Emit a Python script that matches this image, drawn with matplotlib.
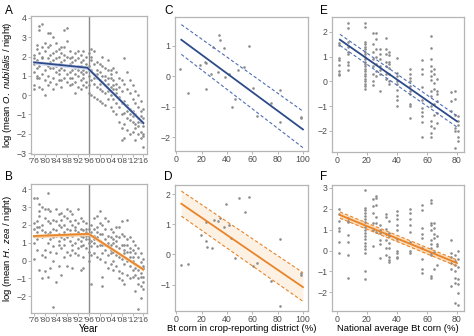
import matplotlib
matplotlib.use("Agg")
import matplotlib.pyplot as plt
import numpy as np

plt.rcParams['font.family'] = ['Liberation Sans', 'DejaVu Sans']
plt.rcParams['mathtext.fontset'] = 'custom'
plt.rcParams['mathtext.rm'] = 'Liberation Sans'
plt.rcParams['mathtext.it'] = 'Liberation Sans:italic'

# ---- data ----
years = list(range(1976, 2017))

a_vals = [
    [1.9, 1.2, 0.3, 0.5, 1.6, 2.1], [2.4, 1.0, 1.4, 1.8, 0.9, 2.6],
    [3.6, 3.4, 2.2, 0.4, 1.5, 0.9], [3.7, 2.5, 1.9, 0.3, 1.1, 2.0],
    [2.3, 2.7, 1.6, 0.0, 0.8, 1.3], [3.2, 2.5, 1.5, 0.5, 1.9, 1.0],
    [3.2, 2.6, 2.1, 1.4, 0.7, 1.7], [3.0, 2.2, 1.4, 0.9, 0.3, 1.8],
    [2.7, 2.3, 1.5, 1.2, 0.6, 1.9], [2.4, 1.6, 0.8, 1.3, 2.0, 1.1],
    [2.2, 1.7, 1.4, 0.8, 0.4, 2.5], [3.4, 2.5, 1.8, 0.9, 1.3, 2.1],
    [3.5, 2.8, 2.0, 1.5, 0.7, 1.1], [2.3, 1.6, 1.2, 0.5, 1.9, 0.9],
    [2.0, 1.5, 0.9, 1.3, 0.6, 1.7], [2.2, 1.4, 0.7, 0.1, 1.1, 1.8],
    [1.9, 1.5, 1.0, 0.4, 1.3, 2.3], [2.1, 1.7, 1.2, 0.8, 0.3, 1.5],
    [2.3, 1.8, 1.3, 0.9, 0.5, 1.1], [2.0, 1.6, 1.2, 0.7, 0.4, 1.4],
    [2.2, 1.5, 1.0, 0.5, 0.1, 1.3], [2.4, 1.8, 1.3, 0.8, 0.0, 2.0],
    [2.3, 1.6, 1.1, 0.6, -0.1, 0.9], [1.7, 1.3, 0.9, 0.4, -0.2, 1.1],
    [1.6, 1.2, 0.8, 0.3, -0.3, 0.6], [2.0, 1.5, 0.7, 0.2, -0.4, 1.0],
    [1.4, 1.0, 0.5, 0.1, -0.5, 0.8], [1.8, 1.3, 0.6, 0.2, -0.2, 0.9],
    [1.3, 0.9, 0.4, 0.0, -0.6, 1.1], [1.4, 0.8, 0.3, -0.2, -0.8, 0.5],
    [1.2, 0.6, 0.1, -0.4, -1.0, 0.3], [0.9, 0.4, -0.1, -0.6, -1.4, -0.2],
    [0.8, 0.2, -0.4, -1.0, -1.7, -2.3], [1.9, 0.6, -0.3, -0.9, -1.5, -2.2],
    [1.2, 0.3, -0.5, -1.2, -1.8, -0.8], [0.8, 0.1, -0.7, -1.3, -2.0, -1.0],
    [0.5, -0.2, -0.8, -1.4, -1.9, -1.1], [0.2, -0.4, -1.0, -1.5, -2.3, -1.7],
    [0.0, -0.6, -1.2, -1.6, -2.0, -1.4], [-0.3, -0.8, -1.4, -1.9, -2.2, -1.1],
    [-0.7, -1.2, -1.6, -2.0, -2.7, -2.1],
]

b_vals = [
    [3.5, 2.1, 1.8, 1.0, 0.1, 1.4], [3.5, 2.2, 1.6, 0.6, 1.9, 1.2],
    [3.2, 2.5, 1.9, 1.4, -0.5, 2.8], [3.0, 2.0, 1.3, -1.0, 0.3, 1.7],
    [2.9, 2.4, 1.6, 0.2, 0.6, -0.6], [3.8, 2.9, 2.2, 1.5, 1.0, -0.9],
    [2.8, 2.1, 1.6, 1.2, 0.5, -0.4], [2.3, 1.8, 1.3, 0.8, 0.0, -2.6],
    [2.9, 2.2, 1.7, 1.4, 0.4, -1.2], [2.6, 2.0, 1.5, 0.9, -0.3, 1.1],
    [2.7, 2.3, 1.9, 1.3, 0.7, -0.8], [2.5, 2.0, 1.6, 0.9, 0.2, 1.2],
    [2.9, 2.4, 1.8, 1.3, 0.5, -0.3], [2.8, 2.2, 1.7, 1.1, 0.3, 1.5],
    [2.6, 2.0, 1.4, 0.9, 0.6, -0.4], [2.3, 1.9, 1.5, 1.0, 0.4, 1.7],
    [2.9, 2.1, 1.6, 1.2, 0.3, 0.7], [2.4, 1.8, 1.4, 0.8, -0.5, 1.1],
    [2.2, 1.7, 1.3, 0.9, 0.2, -0.4], [2.1, 1.6, 1.2, 0.7, 1.8, 1.4],
    [1.8, 1.4, 1.0, 0.5, 0.0, 1.2], [2.0, 1.6, 1.1, 0.3, -1.3, 0.8],
    [2.4, 1.8, 1.4, 1.0, 0.4, 1.2], [2.5, 1.9, 1.3, 0.8, 0.2, 1.6],
    [2.8, 2.1, 1.5, 0.9, 0.1, 1.1], [2.0, 1.5, 0.9, 0.4, -0.9, -1.4],
    [2.4, 1.8, 1.2, 0.6, -0.1, 0.9], [2.2, 1.4, 0.8, 0.3, -0.4, 1.0],
    [1.8, 1.3, 0.9, 0.4, -0.2, 0.6], [1.6, 1.0, 0.5, 0.0, -0.5, 1.2],
    [1.9, 1.4, 0.8, 0.3, -0.3, 1.1], [1.9, 1.3, 0.7, 0.2, -0.6, -1.0],
    [2.2, 1.5, 0.9, 0.1, -1.1, -0.7], [1.4, 0.9, 0.4, -0.2, -1.3, 0.6],
    [2.3, 1.2, 0.5, 0.0, -0.8, 0.9], [1.3, 0.7, 0.2, -0.3, -1.0, 0.5],
    [1.1, 0.6, 0.0, -0.5, -0.9, 0.2], [0.9, 0.4, -0.2, -0.8, -1.7, -0.4],
    [0.7, 0.2, -0.5, -1.0, -2.7, -1.3], [0.4, -0.1, -0.7, -1.4, -2.1, -0.9],
    [0.1, -0.4, -0.9, -1.2, -1.6, -0.3],
]

# segmented fits (year, value) for A and B
a_fit_x = [1976, 1995.5, 2016]
a_fit_y = [1.70, 1.42, -1.45]
b_fit_x = [1976, 1996, 2016]
b_fit_y = [1.38, 1.50, -0.50]

c_x = [3.1, 9.2, 18.6, 22.3, 23.5, 23.5, 27.5, 29.3, 33.2, 34.0, 34.3, 38.0, 38.5,
       41.9, 43.7, 46.6, 48.4, 53.7, 57.6, 60.2, 63.6, 74.6, 82.0, 82.0, 98.2, 98.2]
c_y = [0.25, -0.55, 0.37, 0.48, 0.45, -0.43, 0.09, 0.97, 0.14, 1.37, 1.20, 0.93, -0.02,
       0.07, -1.00, -0.74, 0.20, 0.29, 0.98, -0.40, -1.30, -0.87, -0.46, -1.49, -1.37, -1.35]

d_x = [3.6, 9.6, 19.3, 23.2, 23.4, 24.5, 27.9, 29.7, 33.0, 34.4, 37.8, 39.0, 41.9,
       43.2, 46.6, 49.2, 53.9, 57.8, 60.4, 63.8, 74.7, 82.0, 82.0, 98.7, 98.7]
d_y = [-0.35, -0.30, 0.64, 1.09, 0.46, 0.25, 0.20, 1.14, 1.10, 1.20, 0.92, 1.67, 0.99,
       0.53, -0.13, 1.88, 1.42, 1.90, -0.39, -0.28, -0.88, 0.52, -1.70, -0.60, -0.69]

# fit line and confidence limits at x = 4 and x = 100
cd_fit_x = [4, 100]
c_fit = [1.20, -1.75]
c_upper = [1.70, -1.15]
c_lower = [0.72, -2.35]
d_fit = [1.68, -1.08]
d_upper = [2.10, -0.60]
d_lower = [1.27, -1.55]

# national average Bt corn (%) and the values at each level
nat_bt = [1.4, 7.6, 19, 24, 26, 29, 33, 35, 40, 49, 57, 63, 65, 67, 76, 79, 81]
e_vals = [
    [1.55, 1.45, 0.95, 0.85, 0.65, 0.4, 0.3, 0.25],
    [2.35, 2.15, 1.6, 1.4, 1.2, 1.1, 0.8, 0.65, 0.45],
    [2.35, 2.2, 1.6, 1.5, 1.4, 1.3, 1.2, 1.1, 1.0, 0.9, 0.8, 0.7, 0.6, 0.5, 0.4,
     0.3, 0.2, 0.1, 0.0, -0.1, -0.2, -0.3],
    [1.95, 1.5, 1.2, 0.9, 0.6, 0.3, 0.0, -0.15],
    [1.95, 1.7, 1.3, 1.0, 0.7, 0.4, 0.2],
    [1.3, 1.1, 0.9, 0.6, 0.45, 0.3, -0.4],
    [1.75, 1.3, 1.1, 0.8, 0.6, 0.3, 0.1],
    [1.2, 1.05, 0.8, 0.7, 0.55, 0.3, 0.0, -0.1],
    [0.95, 0.35, 0.2, 0.0, -0.1, -0.35, -0.6, -0.75, -1.0],
    [0.5, 0.3, 0.15, 0.0, -0.2, -0.4, -0.5, -0.9, -1.0, -1.5],
    [0.85, 0.5, 0.3, -0.25, -0.75, -1.1, -1.25, -1.4, -1.65, -2.25],
    [1.85, 1.35, 0.9, 0.6, 0.4, 0.2, 0.05, -0.4, -0.6, -1.0, -1.6, -1.8, -2.1, -2.25],
    [0.5, 0.3, -0.05, -0.3, -0.9, -1.35, -1.9],
    [0.1, -0.4, -0.5, -0.8, -1.3, -1.7],
    [-0.45, -0.8, -1.2],
    [-0.4, -0.7, -1.35, -1.9, -2.0, -2.7],
    [-1.4, -1.6, -1.75, -2.0, -2.25, -2.4],
]
f_vals = [
    [2.0, 1.75, 1.4, 1.1, 0.95, 0.4, -0.1],
    [1.55, 1.4, 1.35, 0.75, 0.4, -0.2, -1.3],
    [2.9, 2.05, 1.95, 1.8, 1.65, 1.5, 1.35, 1.15, 1.0, 0.85, 0.7, 0.55, 0.35, 0.2,
     0.05, -0.1, -1.0, -1.35],
    [2.45, 2.15, 1.8, 1.3, 1.0, 0.2],
    [2.6, 2.5, 2.2, 1.6, 1.3, 0.9],
    [1.2, 1.0, 0.85, 0.5, 0.3, -0.35],
    [1.75, 1.6, 1.05, 0.8, 0.5, 0.1, -0.2],
    [1.4, 0.85, 0.7, 0.35, 0.1, -0.3, -0.45, -0.55],
    [1.9, 1.7, 1.5, 1.2, 1.0, 0.55, 0.0, -0.1, -0.3, -0.35],
    [2.0, 1.8, 1.5, 1.2, 0.9, 0.4, 0.0, -0.1],
    [2.2, 1.95, 1.1, 0.8, 0.6, 0.1, -0.4, -0.9, -1.1],
    [2.4, 2.3, 1.3, 1.2, 1.0, 0.5, 0.3, 0.1, -0.1, -0.2, -1.2, -1.3],
    [1.3, 1.1, 0.8, 0.6, -0.05, -0.9],
    [0.7, 0.3, 0.2, -0.7],
    [0.5, -0.1, -0.3, -0.6, -0.9, -1.7],
    [-0.2, -0.5, -0.7, -1.0, -1.3, -1.55, -2.5],
    [0.0, -0.4, -0.8, -1.35, -1.6, -2.05, -2.6],
]

ef_fit_x = [2, 80]
e_fit = [1.68, -1.62]
e_upper = [1.90, -1.40]
e_lower = [1.45, -1.85]
f_fit = [1.70, -0.60]
f_upper = [1.85, -0.45]
f_lower = [1.55, -0.75]

year_ticks = list(range(1976, 2017, 4))
year_labels = ["'%02d" % (y % 100) for y in year_ticks]

# ---- style ----
BLUE = '#2d4a8a'
BLUE_CI = '#4f6fb3'
ORANGE = '#e8842a'
PT = '#8c8c8c'
FRAME = '#b5b5b5'
TXT = '#4d4d4d'

W, H = 474, 336
fig = plt.figure(figsize=(W / 100, H / 100), dpi=100)


def make_ax(l, t, r, b):
    ax = fig.add_axes([l / W, 1 - b / H, (r - l) / W, (b - t) / H])
    for s in ax.spines.values():
        s.set_color(FRAME)
        s.set_linewidth(0.9)
    ax.tick_params(colors=FRAME, labelcolor=TXT, labelsize=6.3, length=2,
                   width=0.7, pad=1.2)
    return ax


def flatten(xs, vals):
    px, py = [], []
    for x, v in zip(xs, vals):
        px += [x] * len(v)
        py += v
    return px, py


def year_panel(ax, vals, fx, fy, col, band, ylim, yticks, ylabel):
    px, py = flatten(years, vals)
    ax.axvline(1996, color='#8a8a8a', lw=1.0, zorder=1)
    ax.scatter(px, py, s=3.5, color=PT, linewidths=0, zorder=2)
    fy = np.array(fy)
    ax.fill_between(fx, fy - 0.1, fy + 0.1, color=band, lw=0, zorder=3)
    ax.plot(fx, fy, color=col, lw=1.3, zorder=4)
    ax.set_xlim(1974.9, 2017.3)
    ax.set_ylim(*ylim)
    ax.set_yticks(yticks)
    ax.set_xticks(year_ticks)
    ax.set_xticklabels(year_labels, fontsize=6)
    ax.set_ylabel(ylabel, fontsize=6.8, labelpad=2)


def fit_panel(ax, px, py, fx, fit, up, lo, col, cicol, band, xlim, ylim, yticks, xticks):
    if band:
        ax.fill_between(fx, lo, up, color=band, lw=0, zorder=1)
    ax.scatter(px, py, s=3.5, color=PT, linewidths=0, zorder=2)
    ax.plot(fx, fit, color=col, lw=1.3, zorder=4)
    ax.plot(fx, up, color=cicol, lw=0.8, ls=(0, (3, 2)), zorder=3)
    ax.plot(fx, lo, color=cicol, lw=0.8, ls=(0, (3, 2)), zorder=3)
    ax.set_xlim(*xlim)
    ax.set_ylim(*ylim)
    ax.set_yticks(yticks)
    ax.set_xticks(xticks)


axA = make_ax(31, 16, 147, 154)
year_panel(axA, a_vals, a_fit_x, a_fit_y, BLUE, '#d3dbee', (-3.05, 4.1),
           range(-3, 5), r'log (mean $\it{O.\ nubilalis}$ / night)')

axB = make_ax(31, 184, 147, 313)
year_panel(axB, b_vals, b_fit_x, b_fit_y, ORANGE, '#f9d2a6', (-2.94, 4.3),
           range(-2, 5), r'log (mean $\it{H.\ zea}$ / night)')
axB.set_xlabel('Year', fontsize=7, labelpad=0)

axC = make_ax(175, 17, 308, 151)
fit_panel(axC, c_x, c_y, cd_fit_x, c_fit, c_upper, c_lower, BLUE, BLUE_CI, None,
          (-1, 104), (-2.46, 1.95), range(-2, 2), range(0, 101, 20))

axD = make_ax(175, 185, 308, 311)
fit_panel(axD, d_x, d_y, cd_fit_x, d_fit, d_upper, d_lower, ORANGE, ORANGE, '#fdf1e4',
          (-1, 104), (-1.87, 2.3), range(-1, 3), range(0, 101, 20))
axD.set_xlabel('Bt corn in crop-reporting district (%)', fontsize=6.8, labelpad=0)

ex, ey = flatten(nat_bt, e_vals)
axE = make_ax(332, 17, 464, 152)
fit_panel(axE, ex, ey, ef_fit_x, e_fit, e_upper, e_lower, BLUE, BLUE_CI, None,
          (-3.3, 84.7), (-2.86, 2.6), range(-2, 3), range(0, 81, 20))

fx_, fy_ = flatten(nat_bt, f_vals)
axF = make_ax(332, 185, 464, 311)
fit_panel(axF, fx_, fy_, ef_fit_x, f_fit, f_upper, f_lower, ORANGE, ORANGE, '#fbdcb8',
          (-3.3, 84.7), (-2.9, 3.14), range(-2, 4), range(0, 81, 20))
axF.set_xlabel('National average Bt corn (%)', fontsize=6.8, labelpad=0)

for lab, x, y in [('A', 5, 14), ('B', 5, 180), ('C', 164, 14),
                  ('D', 164, 180), ('E', 320, 14), ('F', 320, 180)]:
    fig.text(x / W, 1 - y / H, lab, fontsize=8.5, color='black', ha='left', va='baseline')

fig.savefig('out.png', dpi=100)
